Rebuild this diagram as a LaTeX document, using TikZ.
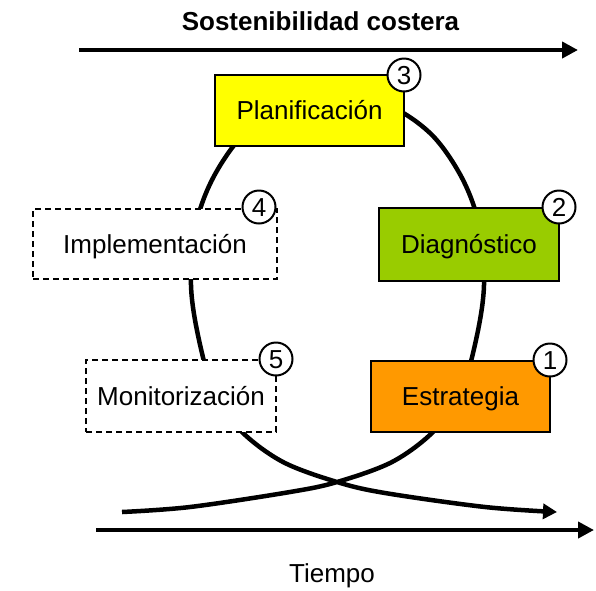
\documentclass[tikz,border=0pt]{standalone}
\usepackage{fontspec}
\setmainfont{Liberation Sans}
\usetikzlibrary{arrows.meta}
\definecolor{cyel}{HTML}{FFFF00}
\definecolor{cgreen}{HTML}{99CC00}
\definecolor{corange}{HTML}{FF9900}
\begin{document}
\begin{tikzpicture}[x=1pt,y=-1pt,
  box/.style={draw=black, line width=1.6pt, inner sep=0pt, outer sep=0pt, text height=18.6pt, text depth=0pt, font=\fontsize{26}{30}\selectfont},
  dbox/.style={box, fill=white, dash pattern=on 6pt off 4pt},
  num/.style={circle, draw=black, fill=white, line width=2pt, minimum size=33pt, inner sep=0pt, text height=18.6pt, text depth=0pt, font=\fontsize{26}{30}\selectfont},
  bigarrow/.style={line width=4.5pt, -{Triangle[length=16pt,width=16pt]}},
  loopline/.style={line width=4.5pt, -{Triangle[length=14pt,width=15pt]}}
]
\useasboundingbox (0,0) rectangle (596,590);
% title and axis
\node[font=\fontsize{26}{30}\selectfont\bfseries] (title) at (320.5,21) {Sostenibilidad costera};
\coordinate (ta) at (79,50);
\coordinate (tb) at (578,50);
\draw[bigarrow] (ta) -- (tb);
\coordinate (ba) at (96,530);
\coordinate (bb) at (594,530);
\draw[bigarrow] (ba) -- (bb);
\node[font=\fontsize{26}{30}\selectfont] (tiempo) at (332,576) {Tiempo};
% loop curve
\draw[loopline] plot[smooth, tension=0.55] coordinates {
 (122,512) (190,507) (290,492) (337,482) (392,462) (433,432) (460,395) (476,340)
 (484,285) (479,225) (462,178) (432,135) (390,106) (337,93) (285,106) (243,135)
 (213,178) (196,225) (191,285) (199,340) (215,395) (242,432) (283,462) (337,482)
 (385,493) (485,507) (557,512)};
% boxes
\node[box, fill=cyel, minimum width=189pt, minimum height=71pt] (plan) at (309.5,110.5) {Planificación};
\node[dbox, minimum width=244pt, minimum height=70pt] (impl) at (155,244) {Implementación};
\node[box, fill=cgreen, minimum width=180pt, minimum height=73pt] (diag) at (469,244.5) {Diagnóstico};
\node[dbox, minimum width=190pt, minimum height=72pt] (moni) at (181,396) {Monitorización};
\node[box, fill=corange, minimum width=179pt, minimum height=71pt] (estr) at (460.5,396.5) {Estrategia};
% numbers
\node[num] (n3) at (plan.north east) {3};
\node[num] (n2) at ([yshift=1pt]diag.north east) {2};
\node[num] (n1) at ([yshift=1pt]estr.north east) {1};
\node[num] (n5) at ([yshift=1pt]moni.north east) {5};
\node[num] (n4) at ([xshift=-18pt,yshift=2pt]impl.north east) {4};
\end{tikzpicture}
\end{document}
